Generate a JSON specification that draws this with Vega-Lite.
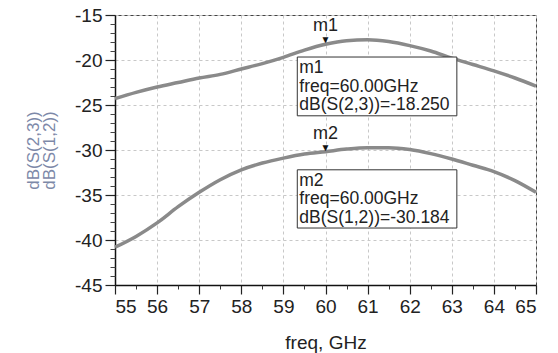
{
  "$schema": "https://vega.github.io/schema/vega-lite/v6.json",
  "width": 421,
  "height": 270,
  "autosize": {"type": "none"},
  "padding": {"left": 115, "top": 15, "right": 22, "bottom": 68},
  "background": "white",
  "config": {
    "font": "Liberation Sans",
    "view": {"stroke": "#444", "strokeWidth": 1},
    "axis": {"labelFont": "Liberation Sans", "titleFont": "Liberation Sans"}
  },
  "datasets": {
    "curves": [
      {"series": "dB(S(2,3))", "freq": 55, "db": -24.3},
      {"series": "dB(S(2,3))", "freq": 55.5, "db": -23.6},
      {"series": "dB(S(2,3))", "freq": 56, "db": -23.0},
      {"series": "dB(S(2,3))", "freq": 56.5, "db": -22.5},
      {"series": "dB(S(2,3))", "freq": 57, "db": -22.0},
      {"series": "dB(S(2,3))", "freq": 57.5, "db": -21.6},
      {"series": "dB(S(2,3))", "freq": 58, "db": -21.0},
      {"series": "dB(S(2,3))", "freq": 58.5, "db": -20.4},
      {"series": "dB(S(2,3))", "freq": 59, "db": -19.7},
      {"series": "dB(S(2,3))", "freq": 59.5, "db": -18.9},
      {"series": "dB(S(2,3))", "freq": 60, "db": -18.25},
      {"series": "dB(S(2,3))", "freq": 60.5, "db": -17.85},
      {"series": "dB(S(2,3))", "freq": 61, "db": -17.75},
      {"series": "dB(S(2,3))", "freq": 61.5, "db": -17.95},
      {"series": "dB(S(2,3))", "freq": 62, "db": -18.4},
      {"series": "dB(S(2,3))", "freq": 62.5, "db": -19.0},
      {"series": "dB(S(2,3))", "freq": 63, "db": -19.8},
      {"series": "dB(S(2,3))", "freq": 63.5, "db": -20.5},
      {"series": "dB(S(2,3))", "freq": 64, "db": -21.2},
      {"series": "dB(S(2,3))", "freq": 64.5, "db": -22.0},
      {"series": "dB(S(2,3))", "freq": 65, "db": -22.9},
      {"series": "dB(S(1,2))", "freq": 55, "db": -40.8},
      {"series": "dB(S(1,2))", "freq": 55.5, "db": -39.6},
      {"series": "dB(S(1,2))", "freq": 56, "db": -38.1},
      {"series": "dB(S(1,2))", "freq": 56.5, "db": -36.3},
      {"series": "dB(S(1,2))", "freq": 57, "db": -34.7},
      {"series": "dB(S(1,2))", "freq": 57.5, "db": -33.3},
      {"series": "dB(S(1,2))", "freq": 58, "db": -32.2},
      {"series": "dB(S(1,2))", "freq": 58.5, "db": -31.45},
      {"series": "dB(S(1,2))", "freq": 59, "db": -30.9},
      {"series": "dB(S(1,2))", "freq": 59.5, "db": -30.45},
      {"series": "dB(S(1,2))", "freq": 60, "db": -30.184},
      {"series": "dB(S(1,2))", "freq": 60.5, "db": -29.9},
      {"series": "dB(S(1,2))", "freq": 61, "db": -29.75},
      {"series": "dB(S(1,2))", "freq": 61.5, "db": -29.75},
      {"series": "dB(S(1,2))", "freq": 62, "db": -29.95},
      {"series": "dB(S(1,2))", "freq": 62.5, "db": -30.4},
      {"series": "dB(S(1,2))", "freq": 63, "db": -31.0},
      {"series": "dB(S(1,2))", "freq": 63.5, "db": -31.7},
      {"series": "dB(S(1,2))", "freq": 64, "db": -32.4},
      {"series": "dB(S(1,2))", "freq": 64.5, "db": -33.4},
      {"series": "dB(S(1,2))", "freq": 65, "db": -34.7}
    ],
    "markers": [
      {"name": "m1", "freq": 60, "db": -18.25, "label": "m1\nfreq=60.00GHz\ndB(S(2,3))=-18.250", "bx1": 59.33, "bx2": 63.12, "by1": -19.67, "by2": -26.2},
      {"name": "m2", "freq": 60, "db": -30.184, "label": "m2\nfreq=60.00GHz\ndB(S(1,2))=-30.184", "bx1": 59.33, "bx2": 63.12, "by1": -32.2, "by2": -38.67}
    ]
  },
  "resolve": {"axis": {"x": "independent", "y": "independent"}},
  "layer": [
    {
      "data": {"name": "curves"},
      "mark": {"type": "line", "color": "#8a8a8a", "strokeWidth": 3.5, "interpolate": "monotone"},
      "encoding": {
        "x": {
          "field": "freq", "type": "quantitative",
          "scale": {"domain": [55, 65], "nice": false, "zero": false},
          "axis": {
            "orient": "bottom",
            "values": [55, 56, 57, 58, 59, 60, 61, 62, 63, 64, 65],
            "title": "freq, GHz",
            "titleFontSize": 19, "titleFontWeight": "normal", "titleColor": "#222",
            "titleY": 57, "titleBaseline": "middle",
            "labelFontSize": 19, "labelColor": "#222", "labelPadding": 3,
            "tickSize": 9, "tickColor": "#222", "tickWidth": 1.2,
            "domainColor": "#111", "domainWidth": 1.5,
            "grid": true, "gridColor": "#c8c8c8", "gridDash": [3, 3], "gridWidth": 1
          }
        },
        "y": {
          "field": "db", "type": "quantitative",
          "scale": {"domain": [-45, -15], "nice": false, "zero": false},
          "axis": {
            "orient": "left",
            "values": [-45, -40, -35, -30, -25, -20, -15],
            "labelExpr": "'' + datum.value",
            "title": ["dB(S(2,3))", "dB(S(1,2))"],
            "titleFontSize": 17, "titleFontWeight": "normal", "titleColor": "#7d88a8",
            "titleAngle": -90, "titleX": -82, "titleY": 135,
            "titleAlign": "center", "titleBaseline": "middle", "titleLineHeight": 16,
            "labelFontSize": 19, "labelColor": "#222", "labelPadding": 3,
            "tickSize": 10, "tickColor": "#222", "tickWidth": 1.2,
            "domainColor": "#111", "domainWidth": 1.5,
            "grid": true, "gridColor": "#c8c8c8", "gridDash": [3, 3], "gridWidth": 1
          }
        },
        "detail": {"field": "series"}
      }
    },
    {
      "data": {"name": "markers"},
      "mark": {"type": "rect", "fill": "white", "stroke": "#333", "strokeWidth": 1},
      "encoding": {
        "x": {
          "field": "bx1", "type": "quantitative",
          "axis": {
            "orient": "bottom",
            "values": [55.5, 56.5, 57.5, 58.5, 59.5, 60.5, 61.5, 62.5, 63.5, 64.5],
            "labels": false, "title": null, "domain": false, "grid": false,
            "tickSize": 4, "tickColor": "#333"
          }
        },
        "x2": {"field": "bx2"},
        "y": {
          "field": "by1", "type": "quantitative",
          "axis": {
            "orient": "left",
            "values": [-44, -43, -42, -41, -39, -38, -37, -36, -34, -33, -32, -31, -29, -28, -27, -26, -24, -23, -22, -21, -19, -18, -17, -16],
            "labels": false, "title": null, "domain": false, "grid": false,
            "tickSize": 5, "tickColor": "#444"
          }
        },
        "y2": {"field": "by2"}
      }
    },
    {
      "data": {"name": "markers"},
      "mark": {"type": "text", "align": "left", "baseline": "top", "dx": 2, "dy": 2, "fontSize": 17.5, "lineHeight": 18.5, "lineBreak": "\n", "color": "#222"},
      "encoding": {
        "x": {"field": "bx1", "type": "quantitative", "axis": null},
        "y": {"field": "by1", "type": "quantitative", "axis": null},
        "text": {"field": "label"}
      }
    },
    {
      "data": {"name": "markers"},
      "mark": {"type": "text", "align": "center", "baseline": "bottom", "dy": 1, "fontSize": 10, "color": "#111", "text": "▼"},
      "encoding": {
        "x": {"field": "freq", "type": "quantitative", "axis": null},
        "y": {"field": "db", "type": "quantitative", "axis": null}
      }
    },
    {
      "data": {"name": "markers"},
      "mark": {"type": "text", "align": "center", "baseline": "middle", "dy": -18, "fontSize": 18, "color": "#222"},
      "encoding": {
        "x": {"field": "freq", "type": "quantitative", "axis": null},
        "y": {"field": "db", "type": "quantitative", "axis": null},
        "text": {"field": "name"}
      }
    }
  ]
}
